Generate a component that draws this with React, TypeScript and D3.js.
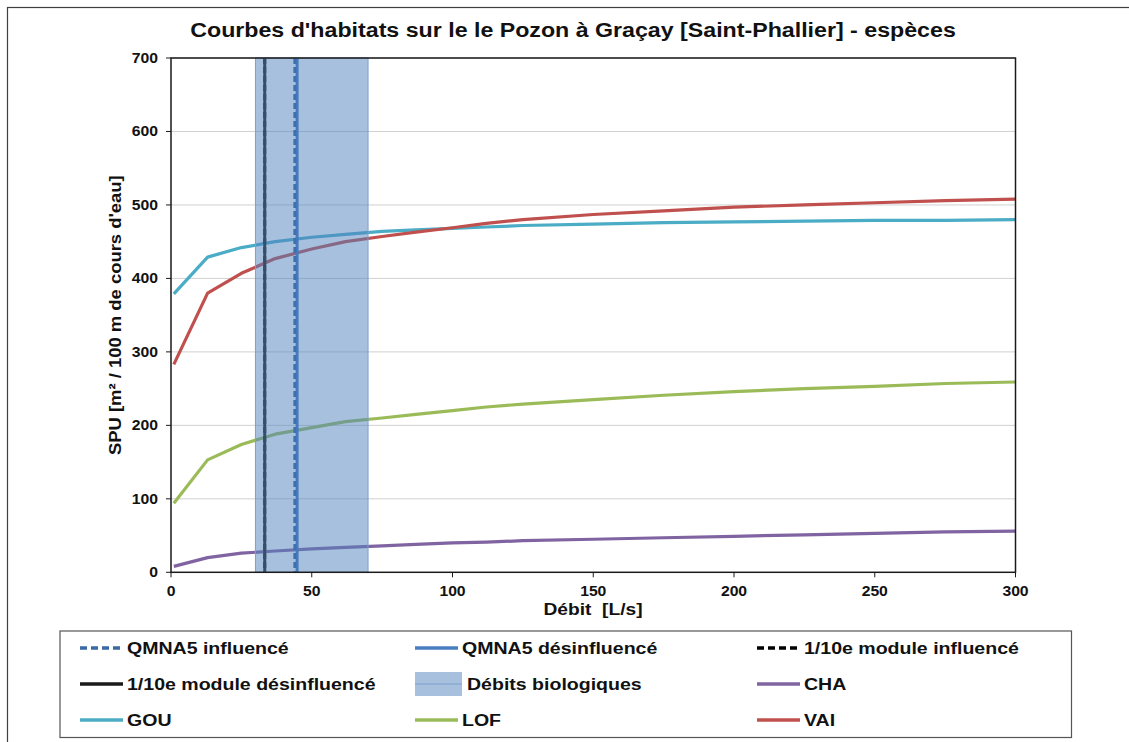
import React, { useEffect, useRef } from "react";
import * as d3 from "d3";

// flows in L/s
const flows = [1, 13, 25, 37, 50, 62, 75, 87, 100, 112, 125, 150, 175, 200, 225, 250, 275, 300];
const cha = [8, 20, 26, 29, 32, 34, 36, 38, 40, 41, 43, 45, 47, 49, 51, 53, 55, 56];
const gou = [379, 429, 442, 450, 456, 460, 464, 466, 468, 470, 472, 474, 476, 477, 478, 479, 479, 480];
const lof = [94, 153, 174, 188, 197, 205, 210, 215, 220, 225, 229, 235, 241, 246, 250, 253, 257, 259];
const vai = [283, 380, 407, 427, 440, 450, 457, 463, 469, 475, 480, 487, 492, 497, 500, 503, 506, 508];

const bioRange = [30, 70];
const qmna5Influence = 44.0;
const qmna5Desinfluence = 44.8;
const moduleInfluence = 33.3;
const moduleDesinfluence = 33.3;

const yTicks = [0, 100, 200, 300, 400, 500, 600, 700];
const xTicks = [0, 50, 100, 150, 200, 250, 300];

const species = [
  { name: "CHA", values: cha, color: "#8064A2" },
  { name: "GOU", values: gou, color: "#4BACC6" },
  { name: "LOF", values: lof, color: "#9BBB59" },
  { name: "VAI", values: vai, color: "#C0504D" },
];

const font = "'Liberation Sans', Arial, sans-serif";

export default function App() {
  const ref = useRef<SVGSVGElement>(null);

  useEffect(() => {
    const svg = d3.select(ref.current);
    svg.selectAll("*").remove();

    const left = 171, right = 1015.5, top = 58, bottom = 572.3;
    const x = d3.scaleLinear().domain([0, 300]).range([left, right]);
    const y = d3.scaleLinear().domain([0, 700]).range([bottom, top]);

    // text helper: reference text looks a bit wider than Liberation Sans
    const label = (
      px: number, py: number, str: string, size: number, sx: number,
      anchor = "start", rotate = 0
    ) => {
      svg.append("g")
        .attr("transform", `translate(${px},${py}) rotate(${rotate}) scale(${sx},1)`)
        .append("text")
        .attr("text-anchor", anchor)
        .attr("font-family", font).attr("font-weight", "bold").attr("font-size", size)
        .attr("fill", "#111")
        .attr("xml:space", "preserve")
        .text(str);
    };

    svg.append("rect").attr("width", 1129).attr("height", 742).attr("fill", "#fff");
    // outer chart border
    svg.append("rect")
      .attr("x", 7.5).attr("y", 7.5).attr("width", 1140).attr("height", 760)
      .attr("fill", "none").attr("stroke", "#404040").attr("stroke-width", 1.2);

    label(573, 37, "Courbes d'habitats sur le le Pozon à Graçay [Saint-Phallier] - espèces", 20, 1.16, "middle");

    // grid
    svg.append("g").selectAll("line").data(yTicks.slice(1)).enter().append("line")
      .attr("x1", left).attr("x2", right)
      .attr("y1", d => y(d)).attr("y2", d => y(d))
      .attr("stroke", "#d0d0d0").attr("stroke-width", 1);

    // curves
    const line = d3.line<number>()
      .x((_, i) => x(flows[i]))
      .y(d => y(d));
    species.forEach(s => {
      svg.append("path")
        .attr("d", line(s.values))
        .attr("fill", "none")
        .attr("stroke", s.color)
        .attr("stroke-width", 3.2)
        .attr("stroke-linejoin", "round");
    });

    // reference vertical lines
    const vline = (v: number, color: string, dash: string | null) => {
      svg.append("line")
        .attr("x1", x(v)).attr("x2", x(v))
        .attr("y1", top).attr("y2", bottom)
        .attr("stroke", color).attr("stroke-width", 3)
        .attr("stroke-dasharray", dash);
    };
    vline(moduleInfluence, "#000", "6 3");
    vline(moduleDesinfluence, "#1a1a1a", null);
    vline(qmna5Desinfluence, "#3b73c0", null);
    vline(qmna5Influence, "#2f5f9e", "6 3");

    // biological flow band
    svg.append("rect")
      .attr("x", x(bioRange[0])).attr("y", top)
      .attr("width", x(bioRange[1]) - x(bioRange[0])).attr("height", bottom - top)
      .attr("fill", "#4F81BD").attr("fill-opacity", 0.5)
      .attr("stroke", "#7e9fcc").attr("stroke-width", 1);

    // plot frame
    svg.append("rect")
      .attr("x", left).attr("y", top).attr("width", right - left).attr("height", bottom - top)
      .attr("fill", "none").attr("stroke", "#1a1a1a").attr("stroke-width", 1.5);

    // axes
    svg.append("g").selectAll("line").data(yTicks).enter().append("line")
      .attr("x1", left - 5).attr("x2", left)
      .attr("y1", d => y(d)).attr("y2", d => y(d))
      .attr("stroke", "#1a1a1a");
    yTicks.forEach(d => label(left - 13, y(d) + 5, String(d), 15, 1.05, "end"));

    svg.append("g").selectAll("line").data(xTicks).enter().append("line")
      .attr("x1", d => x(d)).attr("x2", d => x(d))
      .attr("y1", bottom).attr("y2", bottom + 5)
      .attr("stroke", "#1a1a1a");
    xTicks.forEach(d => label(x(d), bottom + 24, String(d), 15, 1.05, "middle"));

    label(593, 615, "Débit  [L/s]", 17, 1.13, "middle");
    label(121, (top + bottom) / 2, "SPU [m² / 100 m de cours d'eau]", 17, 1.085, "middle", -90);

    // legend
    svg.append("rect")
      .attr("x", 60).attr("y", 631).attr("width", 1011.5).attr("height", 106.5)
      .attr("fill", "#fff").attr("stroke", "#555").attr("stroke-width", 1.2);

    const legendItems = [
      { label: "QMNA5 influencé", color: "#3a6aa6", dash: "7 4", type: "line" },
      { label: "QMNA5 désinfluencé", color: "#4a7ec0", dash: null, type: "line" },
      { label: "1/10e module influencé", color: "#000", dash: "7 4", type: "line" },
      { label: "1/10e module désinfluencé", color: "#1a1a1a", dash: null, type: "line" },
      { label: "Débits biologiques", color: "#4F81BD", dash: null, type: "band" },
      { label: "CHA", color: "#8064A2", dash: null, type: "line" },
      { label: "GOU", color: "#4BACC6", dash: null, type: "line" },
      { label: "LOF", color: "#9BBB59", dash: null, type: "line" },
      { label: "VAI", color: "#C0504D", dash: null, type: "line" },
    ];
    const colX = [80, 415, 757];
    const rowY = [648, 684, 720];
    legendItems.forEach((it, i) => {
      const cx = colX[i % 3];
      const cy = rowY[Math.floor(i / 3)];
      if (it.type === "band") {
        svg.append("rect")
          .attr("x", cx).attr("y", cy - 12).attr("width", 47).attr("height", 24)
          .attr("fill", it.color).attr("fill-opacity", 0.5);
        svg.append("line")
          .attr("x1", cx).attr("x2", cx + 47).attr("y1", cy).attr("y2", cy)
          .attr("stroke", "#7e9fcc").attr("stroke-width", 1);
      } else {
        svg.append("line")
          .attr("x1", cx).attr("x2", cx + 43).attr("y1", cy).attr("y2", cy)
          .attr("stroke", it.color).attr("stroke-width", 3.5)
          .attr("stroke-dasharray", it.dash);
      }
      label(cx + (it.type === "band" ? 52 : 47), cy + 6, it.label, 17, 1.15);
    });
  }, []);

  return (
    <svg
      ref={ref}
      width={1129}
      height={742}
      style={{ position: "absolute", left: 0, top: 0 }}
    />
  );
}
